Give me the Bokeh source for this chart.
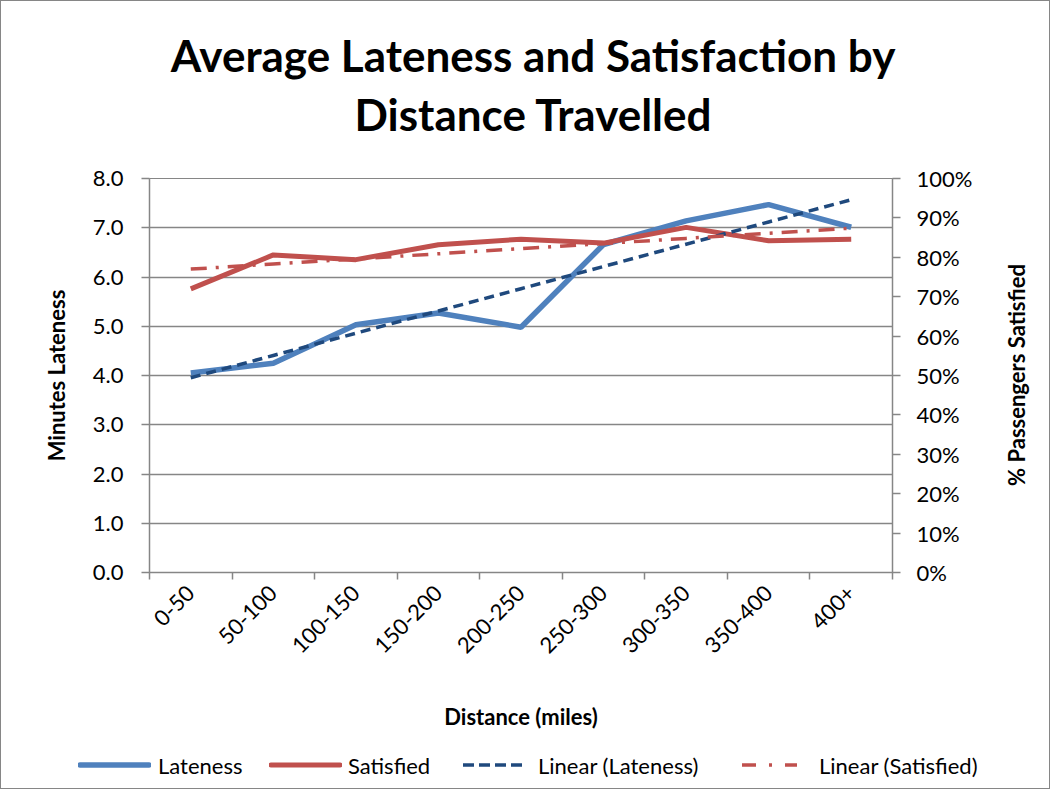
import numpy as np
from math import pi
from bokeh.plotting import figure
from bokeh.layouts import column, row
from bokeh.models import (Range1d, LinearAxis, FixedTicker, NumeralTickFormatter, Div)
from bokeh.embed import file_html
from bokeh.resources import INLINE

# ---- data ----
categories = ["0-50", "50-100", "100-150", "150-200", "200-250",
              "250-300", "300-350", "350-400", "400+"]
lateness = [4.05, 4.25, 5.03, 5.27, 4.98, 6.66, 7.14, 7.47, 7.01]
satisfied = [0.720, 0.806, 0.794, 0.832, 0.846, 0.836, 0.876, 0.842, 0.846]
left_ticks = [0, 1, 2, 3, 4, 5, 6, 7, 8]
right_ticks = [0, 0.1, 0.2, 0.3, 0.4, 0.5, 0.6, 0.7, 0.8, 0.9, 1.0]
title_lines = ["Average Lateness and Satisfaction by", "Distance Travelled"]
legend_labels = ["Lateness", "Satisfied", "Linear (Lateness)", "Linear (Satisfied)"]
x_title = "Distance (miles)"
y_title = "Minutes Lateness"
y2_title = "% Passengers Satisfied"

x = list(range(1, len(categories) + 1))
boundaries = [i + 0.5 for i in range(0, len(categories) + 1)]

# linear trendlines (least squares, as the spreadsheet does)
lt = np.polyval(np.polyfit(x, lateness, 1), x)
st = np.polyval(np.polyfit(x, satisfied, 1), x)

GRID = "#868686"
FONT = "Lato"
styles = [dict(line_color="#4F81BD", line_width=5.5),
          dict(line_color="#C0504D", line_width=5),
          dict(line_color="#1F497D", line_width=3.5, line_dash="10 6"),
          dict(line_color="#C0504D", line_width=3.5, line_dash="16 9 3 9")]

TOP_H, LEG_H, RIGHT_W = 150, 42, 58
W, H = 1048, 787
PH = H - TOP_H - LEG_H

# ---------- title ----------
title_html = (
    f'<div style="width:1032px;margin-left:16px;padding-top:25px;text-align:center;'
    f'font-family:{FONT};font-weight:bold;font-size:44px;line-height:59px;color:black;'
    f'white-space:nowrap">' + "<br>".join(title_lines) + "</div>")
title_div = Div(text=title_html, width=W, height=TOP_H, margin=0)

# ---------- chart ----------
p = figure(width=W - RIGHT_W, height=PH, output_backend="svg", toolbar_location=None,
           x_range=Range1d(0.5, len(categories) + 0.5), y_range=Range1d(0, 8),
           min_border_left=148, min_border_right=W - RIGHT_W - 891, min_border_top=177 - TOP_H,
           min_border_bottom=PH + TOP_H - 571, title=None, margin=0)
p.extra_y_ranges = {"pct": Range1d(0, 1)}

p.outline_line_color = GRID
p.xgrid.visible = False
p.ygrid.ticker = FixedTicker(ticks=left_ticks)
p.ygrid.grid_line_color = GRID
p.ygrid.grid_line_width = 1.5

xa = p.xaxis[0]
xa.ticker = FixedTicker(ticks=x, minor_ticks=boundaries)
xa.major_label_overrides = {i: c for i, c in zip(x, categories)}
xa.major_label_orientation = pi / 4
xa.major_tick_out = 0
xa.major_tick_in = 0
xa.minor_tick_out = 7
xa.minor_tick_in = 0
xa.minor_tick_line_color = GRID
xa.minor_tick_line_width = 1.5
xa.axis_line_color = GRID
xa.axis_line_width = 1.5
xa.major_label_text_font = FONT
xa.major_label_text_font_size = "22px"
xa.major_label_text_color = "black"
xa.major_label_standoff = 10
xa.axis_label = x_title
xa.axis_label_text_font = FONT
xa.axis_label_text_font_size = "22px"
xa.axis_label_text_font_style = "bold"
xa.axis_label_text_color = "black"
xa.axis_label_standoff = 40

ya = p.yaxis[0]
ya.ticker = FixedTicker(ticks=left_ticks)
ya.formatter = NumeralTickFormatter(format="0.0")
ya.major_tick_out = 8
ya.major_tick_in = 0
ya.minor_tick_line_color = None
ya.major_tick_line_color = GRID
ya.major_tick_line_width = 1.5
ya.axis_line_color = GRID
ya.axis_line_width = 1.5
ya.major_label_text_font = FONT
ya.major_label_text_font_size = "22px"
ya.major_label_text_color = "black"
ya.major_label_standoff = 18
ya.axis_label = y_title
ya.axis_label_text_font = FONT
ya.axis_label_text_font_size = "22px"
ya.axis_label_text_font_style = "bold"
ya.axis_label_text_color = "black"
ya.axis_label_standoff = 20

ra = LinearAxis(y_range_name="pct", ticker=FixedTicker(ticks=right_ticks),
                formatter=NumeralTickFormatter(format="0%"))
ra.major_tick_out = 8
ra.major_tick_in = 0
ra.minor_tick_line_color = None
ra.major_tick_line_color = GRID
ra.major_tick_line_width = 1.5
ra.axis_line_color = GRID
ra.axis_line_width = 1.5
ra.major_label_text_font = FONT
ra.major_label_text_font_size = "22px"
ra.major_label_text_color = "black"
ra.major_label_standoff = 16
p.add_layout(ra, "right")

p.line(x, lateness, **styles[0])
p.line(x, satisfied, y_range_name="pct", **styles[1])
p.line(x, lt, **styles[2])
p.line(x, st, y_range_name="pct", **styles[3])

# ---------- secondary axis title (reads bottom to top) ----------
cy = (177 + 571) / 2 - TOP_H
right_html = (
    f'<div style="position:relative;width:{RIGHT_W}px;height:{PH}px">'
    f'<div style="position:absolute;left:{1016 - (W - RIGHT_W)}px;top:{cy}px;'
    f'transform:translate(-50%,-50%) rotate(-90deg);white-space:nowrap;'
    f'font-family:{FONT};font-weight:bold;font-size:22px;line-height:26px;color:black">'
    f'{y2_title}</div></div>')
right_div = Div(text=right_html, width=RIGHT_W, height=PH, margin=0)

# ---------- legend strip ----------
glyph_x = [77, 268, 460, 739]
glyph_w = [73, 73, 68, 59]
label_x = [157, 347, 537, 818]
svg_dash = ["", "", "11 5", "14 13 3 13"]
parts = [f'<div style="position:relative;width:{W}px;height:{LEG_H}px;font-family:{FONT};'
         f'font-size:22px;line-height:26px;color:black;white-space:nowrap">']
for lab, sty, gx, gw, lx, dash in zip(legend_labels, styles, glyph_x, glyph_w, label_x, svg_dash):
    lw = sty["line_width"]
    da = f' stroke-dasharray="{dash}"' if dash else ""
    cap = "round" if not dash else "butt"
    parts.append(
        f'<svg style="position:absolute;left:{gx}px;top:9px" width="{gw}" height="20">'
        f'<line x1="2" y1="10" x2="{gw - 2}" y2="10" stroke="{sty["line_color"]}" '
        f'stroke-width="{lw}" stroke-linecap="{cap}"{da}/></svg>'
        f'<span style="position:absolute;left:{lx}px;top:7px">{lab}</span>')
parts.append("</div>")
legend_div = Div(text="".join(parts), width=W, height=LEG_H, margin=0)

page = column(title_div, row(p, right_div, spacing=0), legend_div, spacing=0,
              styles={"border": "1px solid #868686", "background": "white"})

open("out.html", "w").write(file_html(page, INLINE))
